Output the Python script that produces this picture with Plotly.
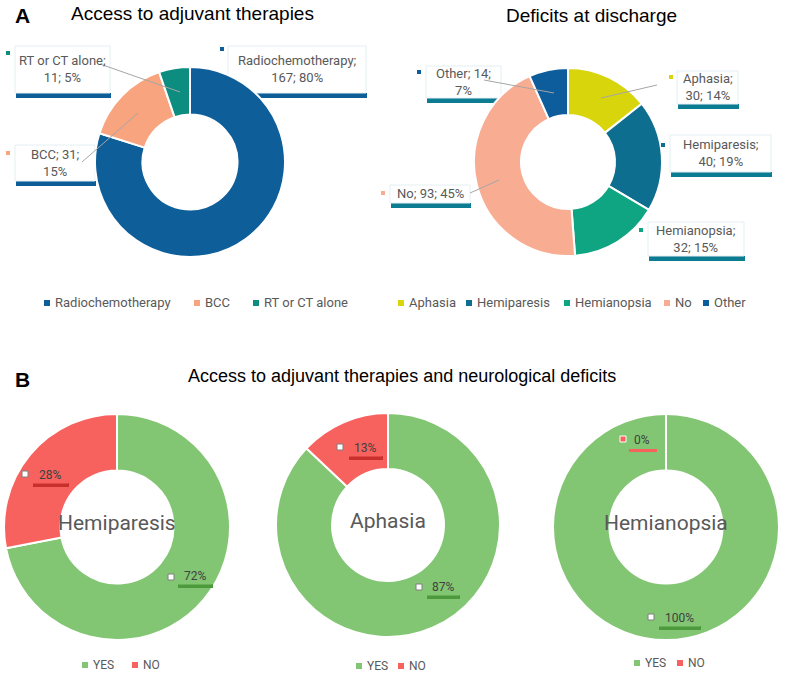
import plotly.graph_objects as go

# ---- data ----
therapy_labels = ["Radiochemotherapy", "BCC", "RT or CT alone"]
therapy_values = [167, 31, 11]
therapy_pct = [80, 15, 5]
therapy_colors = ["#0E5E9A", "#F8A47F", "#0D8C80"]

deficit_labels = ["Aphasia", "Hemiparesis", "Hemianopsia", "No", "Other"]
deficit_values = [30, 40, 32, 93, 14]
deficit_pct = [14, 19, 15, 45, 7]
deficit_colors = ["#D8D50C", "#0D6E8F", "#10A582", "#F8AC92", "#0D5C9C"]

b_groups = ["Hemiparesis", "Aphasia", "Hemianopsia"]
yes_no = ["YES", "NO"]
yes_pct = [72, 87, 100]
no_pct = [28, 13, 0]
yn_colors = ["#82C673", "#F8625E"]
yn_shadow = ["#4C9A3C", "#C8302C"]

W, H = 788, 673
GREY = "#595959"
LABEL_FONT = "Roboto, Arial, sans-serif"


def fx(x):
    return x / W


def fy(y):
    return 1 - y / H


fig = go.Figure()
shapes = []
annotations = []


def callout(x0, y0, x1, y1, text, band, key, key_at, fill="white",
            tcolor=GREY, size=13, key_line="white", key_size=5, layer="below", band_h=5):
    # shadow strip under the box, then the box itself
    shapes.append(dict(type="rect", xref="paper", yref="paper", layer=layer,
                       x0=fx(x0 + 1), x1=fx(x1 + 1), y0=fy(y1 + band_h), y1=fy(y1),
                       fillcolor=band, line=dict(width=0)))
    if fill is not None:
        shapes.append(dict(type="rect", xref="paper", yref="paper", layer=layer,
                           x0=fx(x0), x1=fx(x1), y0=fy(y0), y1=fy(y1),
                           fillcolor=fill,
                           line=dict(color="#E4EEF4" if fill == "white" else fill, width=1)))
    annotations.append(dict(text=text, xref="paper", yref="paper",
                            x=fx((x0 + x1) / 2), y=fy((y0 + y1) / 2),
                            xanchor="center", yanchor="middle", showarrow=False,
                            font=dict(family=LABEL_FONT, size=size, color=tcolor)))
    kx, ky = key_at
    h = key_size / 2
    shapes.append(dict(type="rect", xref="paper", yref="paper",
                       x0=fx(kx - h), x1=fx(kx + h), y0=fy(ky - h), y1=fy(ky + h),
                       fillcolor=key, line=dict(color=key_line, width=1)))


def leader(a, b):
    shapes.append(dict(type="line", xref="paper", yref="paper",
                       x0=fx(a[0]), y0=fy(a[1]), x1=fx(b[0]), y1=fy(b[1]),
                       line=dict(color="#A6A6A6", width=1)))


def pie(labels, values, colors, cx, cy, r, hole=0.5):
    fig.add_trace(go.Pie(
        labels=labels, values=values, hole=hole, sort=False,
        direction="clockwise", rotation=0, textinfo="none", showlegend=False,
        hoverinfo="label+value+percent",
        marker=dict(colors=colors, line=dict(color="white", width=2)),
        domain=dict(x=[fx(cx - r), fx(cx + r)], y=[fy(cy + r), fy(cy - r)]),
    ))


def legend_row(labels, colors, key_xs, y, size=13):
    for lab, c, kx in zip(labels, colors, key_xs):
        shapes.append(dict(type="rect", xref="paper", yref="paper",
                           x0=fx(kx - 3), x1=fx(kx + 3), y0=fy(y - 3), y1=fy(y + 3),
                           fillcolor=c, line=dict(width=0)))
        annotations.append(dict(text=lab, xref="paper", yref="paper", x=fx(kx + 6), y=fy(y),
                                xanchor="left", yanchor="middle", showarrow=False,
                                font=dict(family=LABEL_FONT, size=size, color=GREY)))


# ---- panel A ----
pie(therapy_labels, therapy_values, therapy_colors, 190, 162, 95)
pie(deficit_labels, deficit_values, deficit_colors, 568, 162, 94)

t = [f"{l};<br>{v}; {p}%" for l, v, p in zip(therapy_labels, therapy_values, therapy_pct)]
t[1] = f"{therapy_labels[1]}; {therapy_values[1]};<br>{therapy_pct[1]}%"
callout(228, 46, 366, 93, t[0], "#0D5E96", therapy_colors[0], (222, 49))
callout(15, 145, 95, 181, t[1], "#0D5E96", therapy_colors[1], (8, 153))
callout(15, 46, 110, 93, t[2], "#0D5E96", therapy_colors[2], (8, 53))
leader((100, 64), (180, 92))
leader((82, 162), (138, 113))

d = [f"{l};<br>{v}; {p}%" for l, v, p in zip(deficit_labels, deficit_values, deficit_pct)]
d[3] = f"{deficit_labels[3]}; {deficit_values[3]}; {deficit_pct[3]}%"
d[4] = f"{deficit_labels[4]}; {deficit_values[4]};<br>{deficit_pct[4]}%"
callout(677, 71, 738, 104, d[0], "#0C7C93", deficit_colors[0], (671, 77))
callout(670, 135, 771, 172, d[1], "#0C7C93", deficit_colors[1], (663, 145))
callout(648, 222, 744, 256, d[2], "#0C7C93", deficit_colors[2], (641, 230))
callout(390, 185, 470, 203, d[3], "#0C7C93", deficit_colors[3], (383, 193))
callout(426, 66, 501, 98, d[4], "#0C7C93", deficit_colors[4], (419, 72))
leader((657, 85), (601, 98))
leader((470, 193), (499, 180))
leader((484, 80), (554, 93))

legend_row(therapy_labels, therapy_colors, [47, 197, 256], 303)
legend_row(deficit_labels, deficit_colors, [401, 469, 567, 667, 706], 303)

# ---- panel B ----
b_centers = [(117, 527), (388, 525), (666, 527)]
b_r = [113, 112, 113]
for i, g in enumerate(b_groups):
    cx, cy = b_centers[i]
    pie(yes_no, [yes_pct[i], no_pct[i]], yn_colors, cx, cy, b_r[i], hole=0.5)
    annotations.append(dict(text=g, xref="paper", yref="paper", x=fx(cx), y=fy(cy - 4),
                            showarrow=False, xanchor="center", yanchor="middle",
                            font=dict(family=LABEL_FONT, size=21, color=GREY)))

yes_boxes = [(177, 567, 212, 584, (171, 577)),
             (426, 578, 459, 595, (419, 587)),
             (658, 609, 700, 626, (651, 617))]
no_boxes = [(32, 467, 68, 483, (25, 474)),
            (348, 440, 382, 456, (340, 447)),
            (628, 431, 656, 449, (623, 439))]
for i in range(3):
    x0, y0, x1, y1, k = yes_boxes[i]
    callout(x0, y0, x1, y1, f"{yes_pct[i]}%", yn_shadow[0], "white", k,
            fill=yn_colors[0], tcolor="#404040", size=12, key_line="#7F7F7F",
            key_size=6, layer="above", band_h=4)
    x0, y0, x1, y1, k = no_boxes[i]
    empty = no_pct[i] == 0
    callout(x0, y0, x1, y1, f"{no_pct[i]}%", yn_colors[1] if empty else yn_shadow[1],
            yn_colors[1] if empty else "white", k,
            fill=None if empty else yn_colors[1], tcolor="#404040", size=12,
            key_line="white" if empty else "#7F7F7F", key_size=6, layer="above",
            band_h=3 if empty else 4)

legend_row(yes_no, yn_colors, [85, 135], 665, size=12)
legend_row(yes_no, yn_colors, [359, 401], 666, size=12)
legend_row(yes_no, yn_colors, [637, 680], 663, size=12)

# ---- titles ----
annotations += [
    dict(text="<b>A</b>", x=fx(22), y=fy(15), font=dict(size=21, color="black")),
    dict(text="Access to adjuvant therapies", x=fx(192), y=fy(13),
         font=dict(size=19, color="black")),
    dict(text="Deficits at discharge", x=fx(591), y=fy(15),
         font=dict(size=19, color="black")),
    dict(text="<b>B</b>", x=fx(22), y=fy(379), font=dict(size=21, color="black")),
    dict(text="Access to adjuvant therapies and neurological deficits", x=fx(402), y=fy(376),
         font=dict(size=18, color="black", family="Liberation Sans Narrow, Arial Narrow, Arial")),
]
for a in annotations[-5:]:
    a.update(xref="paper", yref="paper", showarrow=False, xanchor="center", yanchor="middle")
    a["font"].setdefault("family", "Liberation Sans, Arial, sans-serif")

fig.update_layout(
    width=W, height=H, margin=dict(l=0, r=0, t=0, b=0),
    paper_bgcolor="white", plot_bgcolor="white", showlegend=False,
    shapes=shapes, annotations=annotations,
)

fig.write_html("out.html", config={"displayModeBar": False},
               post_script="document.body.style.margin='0px';")
